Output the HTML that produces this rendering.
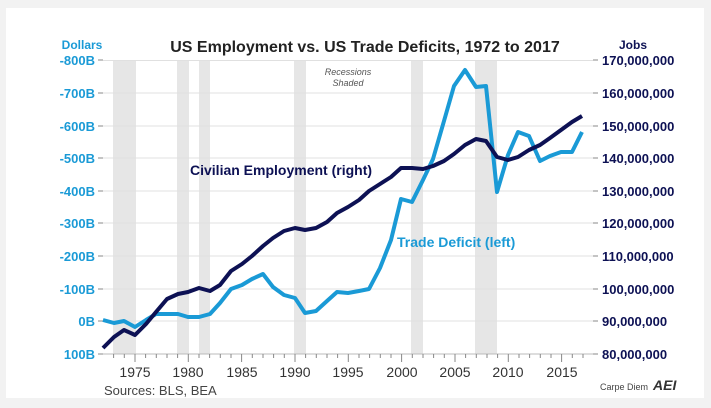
<!DOCTYPE html>
<html><head><style>
body{margin:0;background:#f2f2f2;}
svg{display:block;font-family:"Liberation Sans",sans-serif;}
</style></head><body>
<svg width="711" height="408" xmlns="http://www.w3.org/2000/svg">
<rect x="6" y="8" width="698" height="390" fill="#fff"/>
<g fill="#e6e6e6">
<rect x="113" y="60" width="23" height="294"/>
<rect x="177" y="60" width="12" height="294"/>
<rect x="199" y="60" width="11" height="294"/>
<rect x="294" y="60" width="12" height="294"/>
<rect x="411" y="60" width="12" height="294"/>
<rect x="475" y="60" width="22" height="294"/>
</g>
<g stroke="#e0e0e0" stroke-width="1">
<line x1="103" x2="593" y1="60.5" y2="60.5"/><line x1="103" x2="593" y1="93" y2="93"/>
<line x1="103" x2="593" y1="126" y2="126"/><line x1="103" x2="593" y1="158" y2="158"/>
<line x1="103" x2="593" y1="191" y2="191"/><line x1="103" x2="593" y1="223" y2="223"/>
<line x1="103" x2="593" y1="256" y2="256"/><line x1="103" x2="593" y1="289" y2="289"/>
<line x1="103" x2="593" y1="321" y2="321"/>
</g>
<line x1="103" x2="593" y1="354" y2="354" stroke="#bbb"/>
<g stroke="#888" stroke-width="1" id="ticks">
</g>
<text x="365" y="52" text-anchor="middle" font-size="16" font-weight="bold" fill="#222">US Employment vs. US Trade Deficits, 1972 to 2017</text>
<text x="82" y="49" text-anchor="middle" font-size="12" font-weight="bold" fill="#1a9ad6">Dollars</text>
<text x="633" y="49" text-anchor="middle" font-size="12" font-weight="bold" fill="#0d1154">Jobs</text>
<text x="348" y="75" text-anchor="middle" font-size="9" font-style="italic" fill="#555">Recessions</text>
<text x="348" y="86" text-anchor="middle" font-size="9" font-style="italic" fill="#555">Shaded</text>
<g font-size="13" font-weight="bold" fill="#1a9ad6" text-anchor="end">
<text x="95" y="65">-800B</text><text x="95" y="98">-700B</text><text x="95" y="131">-600B</text>
<text x="95" y="163">-500B</text><text x="95" y="196">-400B</text><text x="95" y="228">-300B</text>
<text x="95" y="261">-200B</text><text x="95" y="294">-100B</text><text x="95" y="326">0B</text>
<text x="95" y="359">100B</text>
</g>
<g font-size="13" font-weight="bold" fill="#0d1154">
<text x="602" y="65">170,000,000</text><text x="602" y="98">160,000,000</text><text x="602" y="131">150,000,000</text>
<text x="602" y="163">140,000,000</text><text x="602" y="196">130,000,000</text><text x="602" y="228">120,000,000</text>
<text x="602" y="261">110,000,000</text><text x="602" y="294">100,000,000</text><text x="602" y="326">90,000,000</text>
<text x="602" y="359">80,000,000</text>
</g>
<g stroke="#888"><line x1="98" x2="103" y1="60" y2="60"/><line x1="593" x2="598" y1="60" y2="60"/>
<line x1="98" x2="103" y1="93" y2="93"/><line x1="593" x2="598" y1="93" y2="93"/>
<line x1="98" x2="103" y1="126" y2="126"/><line x1="593" x2="598" y1="126" y2="126"/>
<line x1="98" x2="103" y1="158" y2="158"/><line x1="593" x2="598" y1="158" y2="158"/>
<line x1="98" x2="103" y1="191" y2="191"/><line x1="593" x2="598" y1="191" y2="191"/>
<line x1="98" x2="103" y1="223" y2="223"/><line x1="593" x2="598" y1="223" y2="223"/>
<line x1="98" x2="103" y1="256" y2="256"/><line x1="593" x2="598" y1="256" y2="256"/>
<line x1="98" x2="103" y1="289" y2="289"/><line x1="593" x2="598" y1="289" y2="289"/>
<line x1="98" x2="103" y1="321" y2="321"/><line x1="593" x2="598" y1="321" y2="321"/>
<line x1="98" x2="103" y1="354" y2="354"/><line x1="593" x2="598" y1="354" y2="354"/>
</g>
<path stroke="#888" d="M113.6 354v4M124.3 354v4M135 354v8M145.6 354v4M156.3 354v4M167 354v4M177.6 354v4M188.3 354v8M199 354v4M209.6 354v4M220.3 354v4M231 354v4M241.6 354v8M252.3 354v4M263 354v4M273.6 354v4M284.3 354v4M295 354v8M305.6 354v4M316.3 354v4M327 354v4M337.6 354v4M348.3 354v8M359 354v4M369.6 354v4M380.3 354v4M391 354v4M401.6 354v8M412.3 354v4M423 354v4M433.6 354v4M444.3 354v4M455 354v8M465.6 354v4M476.3 354v4M487 354v4M497.6 354v4M508.3 354v8M519 354v4M529.6 354v4M540.3 354v4M551 354v4M561.6 354v8M572.3 354v4M583 354v4"/>
<g font-size="14" fill="#333" text-anchor="middle">
<text x="135" y="377">1975</text><text x="188" y="377">1980</text><text x="242" y="377">1985</text>
<text x="295" y="377">1990</text><text x="348" y="377">1995</text><text x="402" y="377">2000</text>
<text x="455" y="377">2005</text><text x="508" y="377">2010</text><text x="562" y="377">2015</text>
</g>
<text x="104" y="395" font-size="13" fill="#444">Sources: BLS, BEA</text>
<text x="600" y="390" font-size="9" fill="#444">Carpe Diem</text>
<text x="653" y="390" font-size="14" font-weight="bold" font-style="italic" fill="#333">AEI</text>
<polyline fill="none" stroke="#1a9ad6" stroke-width="4" stroke-linejoin="round" points="103,320 114,323 124,321 135,327 146,320 156,314 167,314 178,314 188,317 199,317 210,314 220,303 231,289 242,285 252,279 263,274 273,287 284,295 295,298 305,313 316,311 327,301 337,292 348,293 359,291 369,289 380,268 391,240 401,199 412,202 423,180 433,159 444,121 454,86 465,70 476,87 486,86 497,192 508,155 518,132 529,136 540,161 550,156 561,152 572,152 582,132"/>
<polyline fill="none" stroke="#0d1154" stroke-width="4" stroke-linejoin="round" points="103,348 114,337 124,330 135,335 146,324 156,312 167,299 178,294 188,292 199,288 210,291 220,285 231,271 242,264 252,256 263,246 273,238 284,231 295,228 305,230 316,228 327,222 337,213 348,207 359,200 369,191 380,184 391,177 401,168 412,168 423,169 433,166 444,161 454,154 465,145 476,139 486,141 497,157 508,160 518,157 529,150 540,145 550,138 561,130 572,122 582,116"/>
<text x="190" y="175" font-size="14" font-weight="bold" fill="#0d1154">Civilian Employment (right)</text>
<text x="397" y="247" font-size="14" font-weight="bold" fill="#1a9ad6">Trade Deficit (left)</text>
</svg>
</body></html>
